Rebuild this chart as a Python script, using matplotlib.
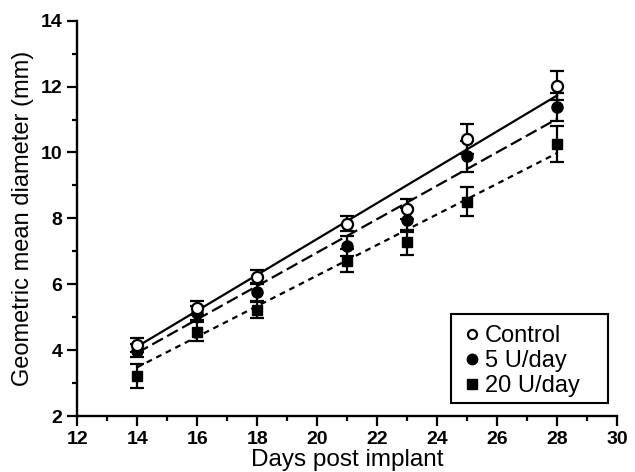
import matplotlib
matplotlib.use("Agg")
import matplotlib.pyplot as plt
from matplotlib.lines import Line2D
from matplotlib.patches import Rectangle
from matplotlib.ticker import MultipleLocator

days = [14, 16, 18, 21, 23, 25, 28]

control = [4.16, 5.28, 6.23, 7.84, 8.28, 10.41, 12.03]
control_se = [0.22, 0.22, 0.20, 0.22, 0.31, 0.46, 0.44]

u5 = [3.98, 5.13, 5.75, 7.15, 7.96, 9.88, 11.38]
u5_se = [0.20, 0.22, 0.25, 0.30, 0.36, 0.46, 0.42]

u20 = [3.22, 4.56, 5.22, 6.72, 7.27, 8.51, 10.26]
u20_se = [0.37, 0.28, 0.24, 0.36, 0.38, 0.44, 0.54]

# regression lines, endpoints
fit_days = [14, 28]
control_fit = [4.11, 11.73]
u5_fit = [3.92, 11.02]
u20_fit = [3.48, 9.98]

labels = ["Control", "5 U/day", "20 U/day"]

plt.rcParams["font.family"] = ["Liberation Sans", "DejaVu Sans"]

fig = plt.figure(figsize=(6.35, 4.72), dpi=100)
ax = fig.add_axes([0.1217, 0.1186, 0.85, 0.8375])

lw = 1.6
ax.plot(fit_days, control_fit, color="black", lw=lw, ls="-", zorder=2)
ax.plot(fit_days, u5_fit, color="black", lw=lw, ls=(0, (5.5, 2.2)), zorder=2)
ax.plot(fit_days, u20_fit, color="black", lw=lw, ls=(0, (2.6, 2.2)), zorder=2)

common = dict(color="black", ecolor="black", elinewidth=1.6, capsize=4.8, capthick=1.6, ls="none")
ax.errorbar(days, u20, yerr=u20_se, marker="s", ms=7.5, mfc="black", mec="black", zorder=3, **common)
ax.errorbar(days, u5, yerr=u5_se, marker="o", ms=8, mfc="black", mec="black", zorder=4, **common)
ax.errorbar(days, control, yerr=control_se, marker="o", ms=8, mfc="white", mec="black", mew=1.6, zorder=5, **common)

ax.set_xlim(12, 30)
ax.set_ylim(2, 14)
ax.xaxis.set_major_locator(MultipleLocator(2))
ax.xaxis.set_minor_locator(MultipleLocator(1))
ax.yaxis.set_major_locator(MultipleLocator(2))
ax.yaxis.set_minor_locator(MultipleLocator(1))

for s in ["top", "right"]:
    ax.spines[s].set_visible(False)
for s in ["left", "bottom"]:
    ax.spines[s].set_linewidth(1.7)

ax.tick_params(which="major", direction="out", length=7, width=1.6, labelsize=14, pad=3.6)
ax.tick_params(which="minor", direction="out", length=3.8, width=1.6)
for t in ax.get_xticklabels() + ax.get_yticklabels():
    t.set_fontweight("bold")

ax.set_xlabel("Days post implant", fontsize=17.5, labelpad=1)
ax.set_ylabel("Geometric mean diameter (mm)", fontsize=17, labelpad=5)

# legend box drawn separately: the original has more room on the right
ax.add_patch(Rectangle((0.6924, 0.0329), 0.2909, 0.2251, transform=ax.transAxes,
                       facecolor="white", edgecolor="black", lw=1.5, zorder=6))
handles = [
    Line2D([], [], ls="none", marker="o", ms=6.5, mfc="white", mec="black", mew=1.6),
    Line2D([], [], ls="none", marker="o", ms=7.5, mfc="black", mec="black"),
    Line2D([], [], ls="none", marker="s", ms=7.5, mfc="black", mec="black"),
]
leg = ax.legend(handles, labels, loc="upper left", bbox_to_anchor=(0.721, 0.230),
                fontsize=17, frameon=False, handlelength=0.5, handletextpad=0.29,
                borderpad=0, labelspacing=0.12, borderaxespad=0)
leg.set_zorder(7)

fig.savefig("out.png", dpi=100)
